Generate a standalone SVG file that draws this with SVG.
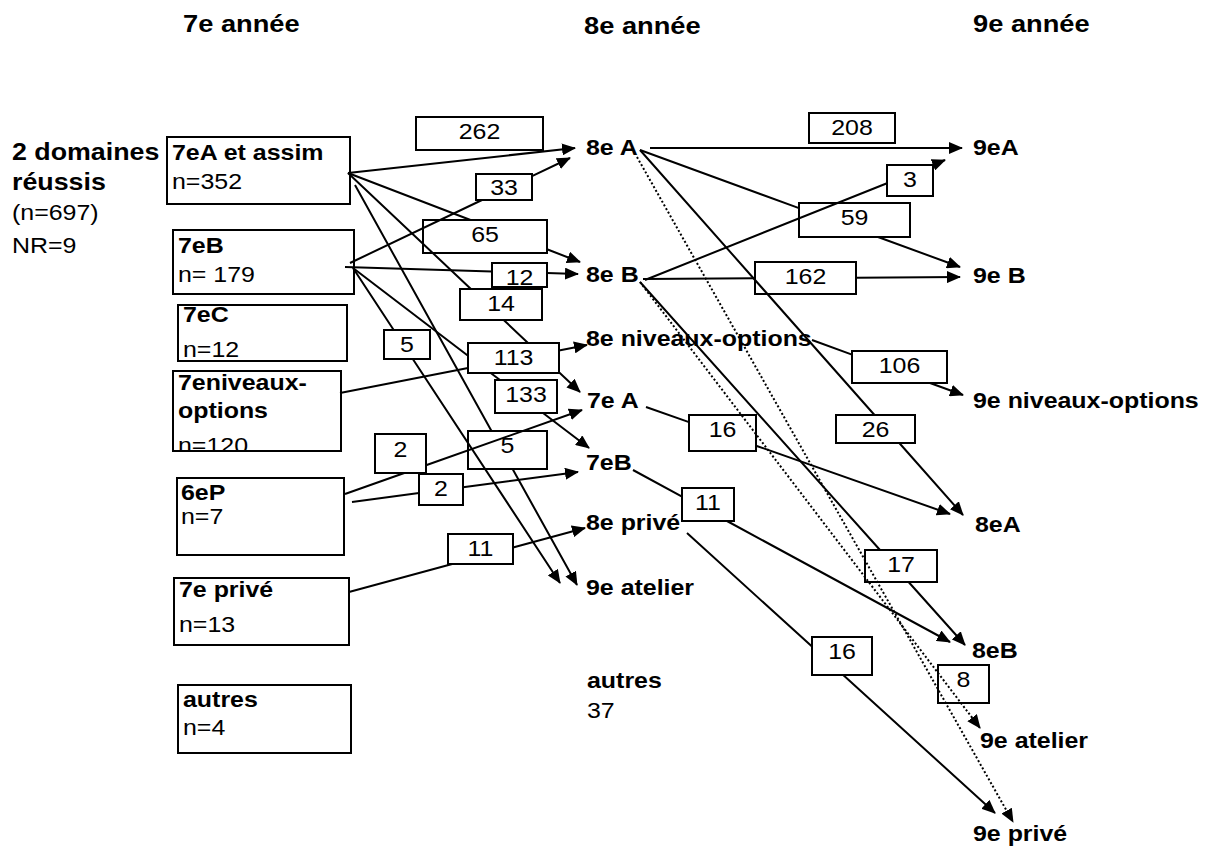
<svg xmlns="http://www.w3.org/2000/svg" width="1210" height="852" viewBox="0 0 1210 852">
<style>
.t{font-family:"Liberation Sans",Arial,sans-serif;font-size:21.5px;fill:#000}
.b{font-weight:bold}
.h{font-size:23.5px}
.m{text-anchor:middle}
.box{fill:#fff;stroke:#000;stroke-width:2}
.ln{fill:none;stroke:#000;stroke-width:2;marker-end:url(#ah)}
.dot{stroke-dasharray:2 2.2}
</style>
<defs>
<marker id="ah" viewBox="0 0 14 12" refX="13" refY="6" markerWidth="14" markerHeight="12" markerUnits="userSpaceOnUse" orient="auto"><path d="M0,0 L14,6 L0,12 z" fill="#000"/></marker>
<clipPath id="clipNiv"><rect x="173" y="371" width="168" height="80"/></clipPath>
</defs>
<rect width="1210" height="852" fill="#fff"/>

<g id="headers">
<text class="t b h" transform="translate(183 32) scale(1.16 1)">7e année</text>
<text class="t b h" transform="translate(584 34) scale(1.16 1)">8e année</text>
<text class="t b h" transform="translate(973 32) scale(1.16 1)">9e année</text>
</g>

<g id="legend">
<text class="t b h" transform="translate(12 160) scale(1.14 1)">2 domaines</text>
<text class="t b h" transform="translate(12 190) scale(1.14 1)">réussis</text>
<text class="t" transform="translate(12 220) scale(1.16 1)">(n=697)</text>
<text class="t" transform="translate(12 253) scale(1.16 1)">NR=9</text>
</g>

<g id="n7eA"><rect class="box" x="167" y="137" width="183" height="67"/>
<text class="t b" transform="translate(172 160) scale(1.16 1)">7eA et assim</text>
<text class="t" transform="translate(172 189) scale(1.16 1)">n=352</text></g>
<g id="n7eB"><rect class="box" x="173" y="230" width="181" height="64"/>
<text class="t b" transform="translate(178 253) scale(1.16 1)">7eB</text>
<text class="t" transform="translate(178 282) scale(1.16 1)">n= 179</text></g>
<g id="n7eC"><rect class="box" x="178" y="305" width="169" height="56"/>
<text class="t b" transform="translate(183 322) scale(1.16 1)">7eC</text>
<text class="t" transform="translate(183 357) scale(1.16 1)">n=12</text></g>
<g id="n7eniv"><rect class="box" x="173" y="371" width="168" height="80"/>
<g clip-path="url(#clipNiv)">
<text class="t b" transform="translate(178 390) scale(1.16 1)">7eniveaux-</text>
<text class="t b" transform="translate(178 418) scale(1.16 1)">options</text>
<text class="t" transform="translate(178 453) scale(1.16 1)">n=120</text></g>
<rect x="173" y="371" width="168" height="80" fill="none" stroke="#000" stroke-width="2"/></g>
<g id="n6eP"><rect class="box" x="177" y="478" width="167" height="77"/>
<text class="t b" transform="translate(181 500) scale(1.16 1)">6eP</text>
<text class="t" transform="translate(181 524) scale(1.16 1)">n=7</text></g>
<g id="n7eprive"><rect class="box" x="174" y="578" width="175" height="67"/>
<text class="t b" transform="translate(179 597) scale(1.16 1)">7e privé</text>
<text class="t" transform="translate(179 632) scale(1.16 1)">n=13</text></g>
<g id="n7eautres"><rect class="box" x="178" y="685" width="173" height="68"/>
<text class="t b" transform="translate(183 707) scale(1.16 1)">autres</text>
<text class="t" transform="translate(183 735) scale(1.16 1)">n=4</text></g>

<g id="n8eA"><text class="t b" transform="translate(586 155) scale(1.16 1)">8e A</text></g>
<g id="n8eB"><text class="t b" transform="translate(586 282) scale(1.16 1)">8e B</text></g>
<g id="n8eniv"><text class="t b" transform="translate(586 346) scale(1.16 1)">8e niveaux-options</text></g>
<g id="n7eA2"><text class="t b" transform="translate(587 408) scale(1.16 1)">7e A</text></g>
<g id="n7eB2"><text class="t b" transform="translate(586 470) scale(1.16 1)">7eB</text></g>
<g id="n8eprive"><text class="t b" transform="translate(586 530) scale(1.16 1)">8e privé</text></g>
<g id="n9eatelier1"><text class="t b" transform="translate(586 595) scale(1.16 1)">9e atelier</text></g>
<g id="n8eautres"><text class="t b" transform="translate(587 688) scale(1.16 1)">autres</text>
<text class="t" transform="translate(587 718) scale(1.16 1)">37</text></g>

<g id="n9eA"><text class="t b" transform="translate(973 155) scale(1.16 1)">9eA</text></g>
<g id="n9eB"><text class="t b" transform="translate(973 283) scale(1.16 1)">9e B</text></g>
<g id="n9eniv"><text class="t b" transform="translate(973 408) scale(1.16 1)">9e niveaux-options</text></g>
<g id="n8eA3"><text class="t b" transform="translate(975 532) scale(1.16 1)">8eA</text></g>
<g id="n8eB3"><text class="t b" transform="translate(972 658) scale(1.16 1)">8eB</text></g>
<g id="n9eatelier"><text class="t b" transform="translate(980 748) scale(1.16 1)">9e atelier</text></g>
<g id="n9eprive"><text class="t b" transform="translate(973 841) scale(1.16 1)">9e privé</text></g>

<g id="edge-labels">
<g id="l262"><rect class="box" x="416" y="117" width="127" height="33"/><text class="t m" transform="translate(479.5 139) scale(1.16 1)">262</text></g>
<g id="l33"><rect class="box" x="476" y="174" width="56" height="26"/><text class="t m" transform="translate(504 195) scale(1.16 1)">33</text></g>
<g id="l65"><rect class="box" x="423" y="220" width="124" height="33"/><text class="t m" transform="translate(485 242) scale(1.16 1)">65</text></g>
<g id="l12"><rect class="box" x="492" y="263" width="55" height="24"/><text class="t m" transform="translate(519.5 285) scale(1.16 1)">12</text></g>
<g id="l14"><rect class="box" x="460" y="289" width="82" height="31"/><text class="t m" transform="translate(501 311) scale(1.16 1)">14</text></g>
<g id="l5a"><rect class="box" x="384" y="330" width="46" height="29"/><text class="t m" transform="translate(407 352) scale(1.16 1)">5</text></g>
<g id="l113"><rect class="box" x="468" y="343" width="91" height="30"/><text class="t m" transform="translate(513.5 365) scale(1.16 1)">113</text></g>
<g id="l133"><rect class="box" x="495" y="380" width="62" height="33"/><text class="t m" transform="translate(526 402) scale(1.16 1)">133</text></g>
<g id="l5b"><rect class="box" x="468" y="431" width="79" height="38"/><text class="t m" transform="translate(507.5 453) scale(1.16 1)">5</text></g>
<g id="l2a"><rect class="box" x="375" y="434" width="51" height="39"/><text class="t m" transform="translate(400.5 457) scale(1.16 1)">2</text></g>
<g id="l2b"><rect class="box" x="419" y="474" width="44" height="31"/><text class="t m" transform="translate(441 496) scale(1.16 1)">2</text></g>
<g id="l11a"><rect class="box" x="448" y="534" width="65" height="30"/><text class="t m" transform="translate(480.5 556) scale(1.16 1)">11</text></g>
<g id="l208"><rect class="box" x="809" y="113" width="86" height="30"/><text class="t m" transform="translate(852 135) scale(1.16 1)">208</text></g>
<g id="l3"><rect class="box" x="887" y="165" width="46" height="31"/><text class="t m" transform="translate(910 187) scale(1.16 1)">3</text></g>
<g id="l59"><rect class="box" x="799" y="203" width="111" height="34"/><text class="t m" transform="translate(854.5 225) scale(1.16 1)">59</text></g>
<g id="l162"><rect class="box" x="755" y="262" width="101" height="32"/><text class="t m" transform="translate(805.5 284) scale(1.16 1)">162</text></g>
<g id="l106"><rect class="box" x="852" y="351" width="95" height="32"/><text class="t m" transform="translate(899.5 373) scale(1.16 1)">106</text></g>
<g id="l16a"><rect class="box" x="689" y="415" width="67" height="36"/><text class="t m" transform="translate(722.5 437) scale(1.16 1)">16</text></g>
<g id="l26"><rect class="box" x="836" y="415" width="79" height="28"/><text class="t m" transform="translate(875.5 437) scale(1.16 1)">26</text></g>
<g id="l11b"><rect class="box" x="682" y="488" width="52" height="33"/><text class="t m" transform="translate(708 510) scale(1.16 1)">11</text></g>
<g id="l17"><rect class="box" x="865" y="550" width="72" height="32"/><text class="t m" transform="translate(901 572) scale(1.16 1)">17</text></g>
<g id="l16b"><rect class="box" x="812" y="637" width="60" height="38"/><text class="t m" transform="translate(842 659) scale(1.16 1)">16</text></g>
<g id="l8"><rect x="938" y="665" width="51" height="38" fill="none" stroke="#000" stroke-width="2"/><text class="t m" transform="translate(963.5 687) scale(1.16 1)">8</text></g>
</g>

<g id="connectors">
<path class="ln" d="M348,173 L575,148"/>
<path class="ln" d="M348,173 L470.5,220 M547,249.3 L580,262"/>
<path class="ln" d="M348,173 L470.9,289 M503.7,320 L528,343 M559,372.2 L580,392"/>
<path class="ln" d="M355,185 L491.5,431 M512.6,469 L577,585"/>
<path class="ln" d="M350,263 L482,200 M532,176.1 L570,158"/>
<path class="ln" d="M345,267 L492,271.4 M547,273.1 L578,274"/>
<path class="ln" d="M353,268 L393.7,330 M412.8,359 L560,583"/>
<path class="ln" d="M353,268 L468,355.7 M490.7,373 L500,380 M543,413 L589,448"/>
<path class="ln" d="M340,393 L468,368.1 M559,350.4 L587,345"/>
<path class="ln" d="M345,494 L404.3,473 M426,465.3 L582,410"/>
<path class="ln" d="M352,502 L419,493.1 M463,487.3 L578,472"/>
<path class="ln" d="M349,592 L452.2,564 M513,547.5 L585,528"/>
<path class="ln" d="M650,148 L962,148"/>
<path class="ln" d="M640,150 L799,208.1 M878,237 L960,267"/>
<path class="ln" d="M640,150 L874.5,415 M899.3,443 L963,515"/>
<path class="ln dot" d="M637,157 L1013,822"/>
<path class="ln" d="M645,280 L887,183.2 M932.5,165 L945,160"/>
<path class="ln" d="M643,279 L755,278.3 M856,277.7 L960,277"/>
<path class="ln" d="M640,282 L880,550 M908.6,582 L965,645"/>
<path class="ln dot" d="M640,282 L980,728"/>
<path class="ln" d="M812,340 L852,354.6 M930,383 L963,395"/>
<path class="ln" d="M646,407 L689,422.1 M756,445.7 L950,514"/>
<path class="ln" d="M633,470 L682,496.6 M727,521 L950,642"/>
<path class="ln" d="M687,533 L812,646.6 M843.2,675 L995,813"/>
</g>
</svg>
